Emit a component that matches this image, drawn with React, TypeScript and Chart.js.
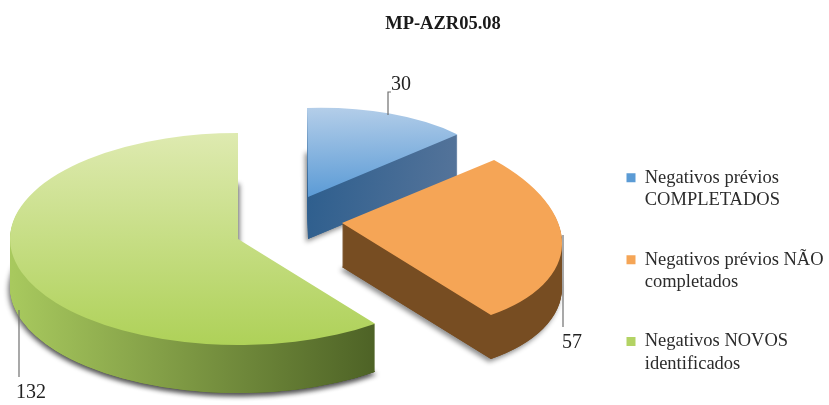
import React, { useEffect, useRef } from "react";
import { Chart, registerables } from "chart.js";

Chart.register(...registerables);

const titleText = "MP-AZR05.08";
const categories = [
  ["Negativos prévios", "COMPLETADOS"],
  ["Negativos prévios NÃO", "completados"],
  ["Negativos NOVOS", "identificados"],
];
const seriesValues = [30, 57, 132];
const swatchColors = ["#5b9bd5", "#f5a556", "#b3d364"];

// Projection of each exploded slice: screen pixels for the flat pie's unit axes.
type Geo = { a: number; b: number; c: number; d: number; e: number; f: number; depth: number };
const sliceGeometry: Geo[] = [
  { a: 198, b: -6, c: 1, d: 89, e: 308, f: 197, depth: 42 },
  { a: 219, b: 9.7, c: 21.5, d: 107.8, e: 342, f: 223, depth: 44 },
  { a: 228, b: 0, c: 0, d: 106, e: 238, f: 239, depth: 48 },
];
const drawOrder = [0, 2, 1];
const shadowSides = [[-2], [-2], [2, -2]];
const topShades = [
  { from: [0, 108], to: [0, 197], stops: ["#b4cee9", "#5b9bd6"] },
  { from: [0, 160], to: [0, 315], stops: ["#f5a556", "#f5a556"] },
  { from: [0, 134], to: [0, 346], stops: ["#deeab0", "#aed158"] },
];
const wallShades = [
  { from: [308, 0], to: [458, 0], stops: ["#2f5f8e", "#55749a"] },
  { from: [342, 0], to: [563, 0], stops: ["#774d22", "#774d22"] },
  { from: [12, 0], to: [373, 0], stops: ["#a8c95e", "#4e6326"] },
];
// Data labels: text anchor and leader line, in pixels.
const leaders = [
  { pts: [[391, 92], [388, 92], [388, 115]], x: 391, y: 85 },
  { pts: [[563, 235], [563, 327]], x: 562, y: 343 },
  { pts: [[19, 310], [19, 377]], x: 16, y: 393 },
];

const FONT = "'Liberation Serif', 'Times New Roman', serif";

const pie3d = {
  id: "pie3d",
  afterLayout(chart: any) {
    const t = chart.titleBlock;
    t.left += 28.5; t.right += 28.5;
    t.top = 13;
    const l = chart.legend;
    const w = l.right - l.left;
    const h = l.bottom - l.top;
    l.left = 589; l.right = l.left + w;
    l.top = 131; l.bottom = l.top + h;
  },
  beforeDatasetDraw(chart: any) {
    const ctx: CanvasRenderingContext2D = chart.ctx;
    const arcs = chart.getDatasetMeta(0).data;
    for (const i of drawOrder) {
      const arc = arcs[i];
      const g = sliceGeometry[i];
      const R = arc.outerRadius;
      const base = arc.options;
      const det = g.a * g.d - g.b * g.c;
      const toLocal = (p: number[], dy: number) => {
        const sx = p[0] - g.e, sy = p[1] - g.f - dy;
        const u = (g.d * sx - g.c * sy) / det;
        const v = (-g.b * sx + g.a * sy) / det;
        return [arc.x + u * R, arc.y + v * R];
      };
      const grad = (s: any, dy: number) => {
        const mx = s.from[0] === 0 ? g.e : s.from[0];
        const mxb = s.to[0] === 0 ? g.e : s.to[0];
        const my = s.from[1] === 0 ? g.f : s.from[1];
        const myb = s.to[1] === 0 ? g.f : s.to[1];
        const a = toLocal([mx, my], dy);
        const b = toLocal([mxb, myb], dy);
        const gr = ctx.createLinearGradient(a[0], a[1], b[0], b[1]);
        gr.addColorStop(0, s.stops[0]);
        gr.addColorStop(1, s.stops[1]);
        return gr;
      };
      const paint = (fill: any, dy: number, shadowX: number) => {
        ctx.save();
        if (shadowX) {
          ctx.shadowColor = "rgba(0,0,0,0.45)";
          ctx.shadowBlur = 5;
          ctx.shadowOffsetX = shadowX;
          ctx.shadowOffsetY = 3;
        }
        ctx.translate(0, dy);
        ctx.transform(g.a / R, g.b / R, g.c / R, g.d / R, g.e, g.f);
        ctx.translate(-arc.x, -arc.y);
        arc.options = { ...base, backgroundColor: fill, borderWidth: 0 };
        arc.draw(ctx);
        ctx.restore();
      };
      for (const sx of shadowSides[i]) paint(grad(wallShades[i], g.depth), g.depth, sx);
      for (let dy = g.depth; dy >= 1; dy--) {
        paint(grad(wallShades[i], dy), dy, 0);
      }
      paint(grad(topShades[i], 0), 0, 0);
      arc.options = base;
    }
    return false;
  },
  afterDraw(chart: any) {
    const ctx: CanvasRenderingContext2D = chart.ctx;
    ctx.save();
    leaders.forEach((l, i) => {
      ctx.strokeStyle = "#6f6f6f";
      ctx.lineWidth = 1.2;
      ctx.beginPath();
      l.pts.forEach((p, k) => (k ? ctx.lineTo(p[0], p[1]) : ctx.moveTo(p[0], p[1])));
      ctx.stroke();
      ctx.fillStyle = "#222222";
      ctx.font = `20px ${FONT}`;
      ctx.textAlign = "left";
      ctx.textBaseline = "middle";
      ctx.fillText(String(seriesValues[i]), l.x, l.y);
    });
    ctx.restore();
  },
};

export default function App() {
  const ref = useRef<HTMLCanvasElement>(null);
  useEffect(() => {
    const chart = new Chart(ref.current as HTMLCanvasElement, {
      type: "pie",
      data: {
        labels: categories as any,
        datasets: [{ data: seriesValues, backgroundColor: swatchColors, borderWidth: 0 }],
      },
      options: {
        animation: false,
        responsive: false,
        rotation: 0,
        plugins: {
          title: {
            display: true,
            text: titleText,
            color: "#1a1a1a",
            font: { family: FONT, size: 18.5, weight: "bold" },
            padding: { top: 0, bottom: 10 },
          },
          legend: {
            position: "right",
            align: "start",
            labels: {
              boxWidth: 9,
              boxHeight: 9,
              padding: 37.5,
              color: "#2b2b2b",
              font: { family: FONT, size: 18.5, lineHeight: 1.2 },
            },
          },
          tooltip: { enabled: false },
        },
      } as any,
      plugins: [pie3d as any],
    });
    return () => chart.destroy();
  }, []);
  return (
    <div style={{ position: "absolute", left: 0, top: 0, width: 829, height: 405, background: "#fff" }}>
      <canvas ref={ref} width={829} height={405} style={{ display: "block", filter: "blur(0.6px)" }} />
    </div>
  );
}
